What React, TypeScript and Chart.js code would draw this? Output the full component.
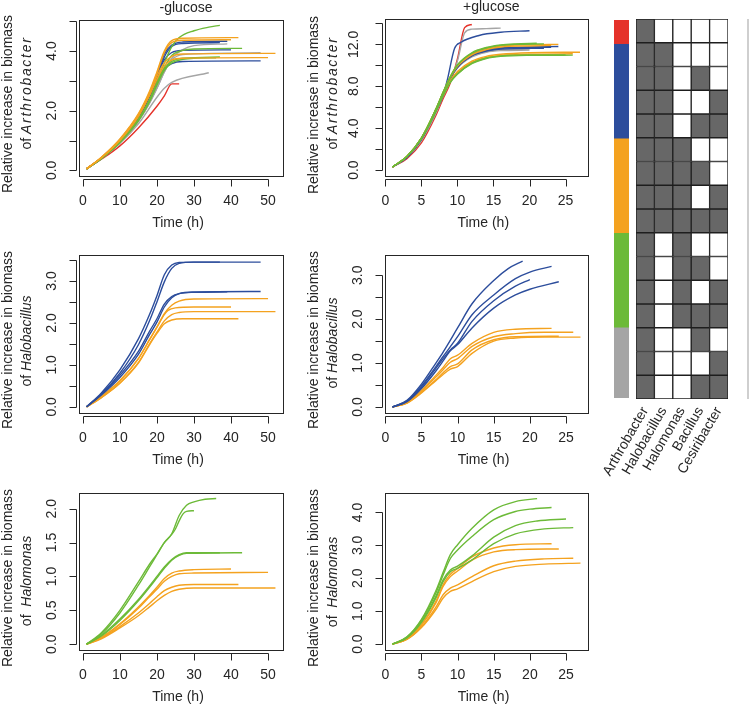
import React, { useEffect, useRef } from 'react';
import { Chart, registerables } from 'chart.js';
Chart.register(...registerables);

type Pt = [number, number];
interface Series { color: string; pts: Pt[] }

const RED = '#e5322a';
const BLUE = '#2c4d9c';
const ORANGE = '#f4a21f';
const GREEN = '#6cba38';
const GRAY = '#a5a5a5';
const INK = '#262626';
const FONT = '"Liberation Sans", Arial, Helvetica, sans-serif';

// ---------- tick values ----------
const xTicksLong = [0, 10, 20, 30, 40, 50];
const xTicksShort = [0, 5, 10, 15, 20, 25];
const yTicksArthMinus = [0, 1, 2, 3, 4, 5];
const yLabArthMinus = [0, 2, 4];
const yTicksArthPlus = [0, 2, 4, 6, 8, 10, 12, 14];
const yLabArthPlus = [0, 4, 8, 12];
const yTicksHaloMinus = [0, 0.5, 1, 1.5, 2, 2.5, 3, 3.5];
const yLabHaloMinus = [0, 1, 2, 3];
const yTicksHaloPlus = [0, 0.5, 1, 1.5, 2, 2.5, 3];
const yLabHaloPlus = [0, 1, 2, 3];
const yTicksMonMinus = [0, 0.5, 1, 1.5, 2];
const yLabMonMinus = [0, 0.5, 1, 1.5, 2];
const yTicksMonPlus = [0, 1, 2, 3, 4];
const yLabMonPlus = [0, 1, 2, 3, 4];

// ---------- Arthrobacter, -glucose ----------
const arthMinus: Series[] = [
  { color: ORANGE, pts: [[1,0.05],[5,0.44],[10,1.05],[15,1.9],[18,2.65],[20,3.3],[22,4.0],[24,4.35],[27,4.43],[42,4.45]] },
  { color: ORANGE, pts: [[1,0.05],[5,0.43],[10,1.03],[15,1.87],[18,2.6],[20,3.25],[22,3.95],[24,4.28],[27,4.36],[40,4.38]] },
  { color: ORANGE, pts: [[1,0.05],[5,0.42],[10,1.01],[15,1.83],[18,2.55],[20,3.15],[22,3.6],[24,3.82],[27,3.9],[52,3.92]] },
  { color: ORANGE, pts: [[1,0.05],[5,0.42],[10,1.0],[15,1.8],[18,2.5],[20,3.05],[22,3.5],[24,3.7],[27,3.76],[50,3.78]] },
  { color: GREEN, pts: [[1,0.05],[5,0.4],[10,0.95],[15,1.7],[18,2.35],[20,2.95],[22,3.6],[24,4.15],[26,4.45],[30,4.68],[34,4.8],[37,4.86]] },
  { color: GREEN, pts: [[1,0.05],[5,0.4],[10,0.95],[15,1.7],[18,2.35],[20,2.9],[22,3.45],[24,3.85],[27,4.02],[30,4.07],[43,4.09]] },
  { color: GREEN, pts: [[1,0.05],[5,0.4],[10,0.95],[15,1.7],[18,2.35],[20,2.9],[22,3.4],[24,3.65],[27,3.76],[37,3.8]] },
  { color: GREEN, pts: [[1,0.05],[5,0.39],[10,0.93],[15,1.66],[18,2.3],[20,2.85],[22,3.35],[24,3.6],[27,3.72],[30,3.76],[36,3.77]] },
  { color: BLUE, pts: [[1,0.05],[5,0.42],[10,1.03],[15,1.85],[18,2.55],[20,3.2],[22,3.9],[24,4.2],[27,4.3],[39,4.33]] },
  { color: BLUE, pts: [[1,0.05],[5,0.41],[10,1.0],[15,1.8],[18,2.5],[20,3.1],[22,3.8],[24,4.15],[27,4.25],[37,4.28]] },
  { color: BLUE, pts: [[1,0.05],[5,0.41],[10,1.0],[15,1.8],[18,2.5],[20,3.15],[22,3.7],[24,3.95],[27,4.02],[40,4.04]] },
  { color: BLUE, pts: [[1,0.05],[5,0.4],[10,0.96],[15,1.75],[18,2.45],[20,3.0],[22,3.4],[24,3.58],[27,3.65],[48,3.67]] },
  { color: GRAY, pts: [[1,0.05],[5,0.4],[10,0.93],[15,1.65],[18,2.25],[20,2.75],[22,3.3],[24,3.75],[27,4.05],[30,4.18],[39,4.24]] },
  { color: GRAY, pts: [[1,0.05],[5,0.4],[10,0.93],[15,1.65],[18,2.25],[20,2.75],[22,3.3],[24,3.7],[27,3.88],[48,3.94]] },
  { color: GRAY, pts: [[1,0.05],[5,0.4],[10,0.9],[15,1.56],[20,2.45],[22,2.75],[24,2.95],[34,3.27]] },
  { color: RED, pts: [[1,0.05],[5,0.37],[10,0.82],[15,1.42],[20,2.15],[22,2.5],[24,2.9],[26,2.9]] },
];

// ---------- Arthrobacter, +glucose ----------
const arthPlus: Series[] = [
  { color: GREEN, pts: [[1,0.3],[3,1.3],[5,3.05],[7,5.8],[8,7.4],[9,8.9],[10,10.05],[12,11.2],[14,11.7],[16,11.95],[18,12.05],[21,12.1]] },
  { color: GREEN, pts: [[1,0.3],[3,1.3],[5,3.05],[7,5.8],[8,7.4],[9,8.85],[10,10.0],[12,11.15],[14,11.65],[16,11.9],[18,12.0],[22,12.05]] },
  { color: GREEN, pts: [[1,0.3],[3,1.3],[5,3.0],[7,5.6],[8,7.1],[9,8.4],[10,9.2],[12,10.2],[14,10.7],[16,10.9],[20,11.0],[25,11.0]] },
  { color: GREEN, pts: [[1,0.3],[3,1.3],[5,3.0],[7,5.6],[8,7.1],[9,8.35],[10,9.15],[12,10.15],[14,10.65],[16,10.85],[20,10.95],[26,10.97]] },
  { color: ORANGE, pts: [[1,0.3],[3,1.3],[5,3.05],[7,5.8],[8,7.4],[9,8.9],[10,10.0],[12,11.1],[14,11.6],[16,11.85],[20,11.95],[24,12.0]] },
  { color: ORANGE, pts: [[1,0.3],[3,1.3],[5,3.05],[7,5.75],[8,7.35],[9,8.8],[10,9.9],[12,11.0],[14,11.5],[16,11.75],[20,11.85],[23,11.9]] },
  { color: ORANGE, pts: [[1,0.3],[3,1.3],[5,3.0],[7,5.7],[8,7.2],[9,8.5],[10,9.4],[12,10.4],[14,10.85],[16,11.05],[20,11.2],[27,11.25]] },
  { color: ORANGE, pts: [[1,0.3],[3,1.3],[5,3.0],[7,5.65],[8,7.15],[9,8.45],[10,9.3],[12,10.3],[14,10.75],[16,10.95],[20,11.05],[26,11.1]] },
  { color: BLUE, pts: [[1,0.3],[3,1.2],[5,2.9],[7,5.6],[8,7.1],[8.6,8.6],[9.6,11.6],[10.5,12.2],[13,12.85],[16,13.15],[20,13.3]] },
  { color: BLUE, pts: [[1,0.3],[3,1.25],[5,3.0],[7,5.7],[8,7.3],[9,8.8],[10,9.9],[12,11.0],[14,11.45],[16,11.65],[20,11.75],[24,11.8]] },
  { color: BLUE, pts: [[1,0.3],[3,1.25],[5,3.0],[7,5.7],[8,7.3],[9,8.8],[10,9.85],[12,10.95],[14,11.4],[16,11.6],[20,11.7],[23,11.72]] },
  { color: BLUE, pts: [[1,0.3],[3,1.25],[5,3.0],[7,5.7],[8,7.3],[9,8.75],[10,9.8],[12,10.9],[14,11.35],[16,11.55],[22,11.62]] },
  { color: GRAY, pts: [[1,0.3],[3,1.2],[5,2.8],[7,5.4],[8,7.0],[9,8.5],[10,10.4],[11,13.1],[12,13.45],[14,13.5],[16,13.55]] },
  { color: GRAY, pts: [[1,0.3],[3,1.25],[5,3.0],[7,5.7],[8,7.3],[9,8.8],[10,9.8],[12,10.85],[14,11.3],[16,11.48],[20,11.55]] },
  { color: GRAY, pts: [[1,0.3],[3,1.25],[5,3.0],[7,5.7],[8,7.3],[9,8.75],[10,9.75],[12,10.8],[14,11.25],[16,11.4],[20,11.45]] },
  { color: RED, pts: [[1,0.3],[3,1.1],[5,2.6],[7,5.2],[8,6.8],[9,8.3],[10,10.6],[11,13.6],[12,13.9]] },
];

// ---------- Halobacillus, -glucose ----------
const haloMinus: Series[] = [
  { color: BLUE, pts: [[1,0],[5,0.33],[10,0.88],[15,1.62],[18,2.2],[20,2.65],[22,3.15],[24,3.38],[26,3.44],[30,3.45],[48,3.45]] },
  { color: BLUE, pts: [[1,0],[5,0.3],[10,0.8],[15,1.48],[18,2.05],[20,2.5],[22,2.98],[24,3.3],[26,3.42],[30,3.45],[37,3.45]] },
  { color: BLUE, pts: [[1,0],[5,0.3],[10,0.75],[15,1.32],[18,1.8],[20,2.1],[22,2.45],[24,2.63],[26,2.7],[30,2.73],[39,2.74]] },
  { color: BLUE, pts: [[1,0],[5,0.28],[10,0.7],[15,1.25],[18,1.72],[20,2.02],[22,2.38],[24,2.6],[26,2.7],[30,2.74],[48,2.75]] },
  { color: ORANGE, pts: [[1,0],[5,0.25],[10,0.62],[15,1.15],[18,1.6],[20,1.9],[22,2.22],[24,2.42],[26,2.52],[30,2.57],[50,2.58]] },
  { color: ORANGE, pts: [[1,0],[5,0.25],[10,0.62],[15,1.15],[18,1.6],[20,1.9],[22,2.2],[23,2.3],[25,2.36],[30,2.38],[40,2.38]] },
  { color: ORANGE, pts: [[1,0],[5,0.22],[10,0.57],[15,1.06],[18,1.5],[20,1.78],[22,2.05],[24,2.2],[26,2.25],[30,2.27],[52,2.27]] },
  { color: ORANGE, pts: [[1,0],[5,0.22],[10,0.56],[15,1.04],[18,1.48],[20,1.75],[22,1.98],[24,2.07],[27,2.1],[42,2.1]] },
];

// ---------- Halobacillus, +glucose ----------
const haloPlus: Series[] = [
  { color: BLUE, pts: [[1,0],[3,0.15],[5,0.52],[7,1.0],[8,1.25],[10,1.8],[12,2.35],[15,2.88],[17,3.15],[19,3.32]] },
  { color: BLUE, pts: [[1,0],[3,0.14],[5,0.48],[7,0.92],[8,1.15],[10,1.6],[12,2.1],[15,2.55],[18,2.92],[20,3.07],[23,3.2]] },
  { color: BLUE, pts: [[1,0],[3,0.13],[5,0.45],[7,0.88],[8,1.1],[9,1.3],[10,1.45],[12,1.95],[15,2.42],[18,2.75],[20,2.9]] },
  { color: BLUE, pts: [[1,0],[3,0.12],[5,0.42],[7,0.82],[8,1.05],[9,1.28],[10,1.42],[12,1.8],[15,2.25],[18,2.55],[20,2.68],[24,2.85]] },
  { color: ORANGE, pts: [[1,0],[3,0.1],[5,0.38],[7,0.72],[8,0.9],[9,1.1],[10,1.18],[12,1.45],[15,1.7],[18,1.77],[23,1.79]] },
  { color: ORANGE, pts: [[1,0],[3,0.1],[5,0.36],[7,0.68],[8,0.85],[9,1.02],[10,1.1],[12,1.38],[15,1.6],[18,1.67],[22,1.7],[26,1.7]] },
  { color: ORANGE, pts: [[1,0],[3,0.09],[5,0.33],[7,0.62],[8,0.78],[9,0.92],[10,0.98],[12,1.3],[15,1.53],[18,1.6],[24,1.61]] },
  { color: ORANGE, pts: [[1,0],[3,0.09],[5,0.32],[7,0.6],[8,0.74],[9,0.86],[10,0.92],[12,1.22],[15,1.5],[18,1.57],[22,1.59],[27,1.59]] },
];

// ---------- Halomonas, -glucose ----------
const monMinus: Series[] = [
  { color: GREEN, pts: [[1,0],[5,0.17],[10,0.5],[15,0.92],[18,1.18],[20,1.33],[22,1.5],[24,1.63],[26,1.9],[28,2.05],[30,2.1],[33,2.14],[36,2.15]] },
  { color: GREEN, pts: [[1,0],[5,0.15],[10,0.46],[15,0.87],[18,1.14],[20,1.32],[22,1.5],[24,1.62],[25,1.7],[26,1.82],[27,1.92],[28,1.96],[30,1.97]] },
  { color: GREEN, pts: [[1,0],[5,0.13],[10,0.37],[15,0.66],[18,0.86],[20,1.0],[22,1.14],[24,1.25],[26,1.32],[28,1.35],[37,1.35]] },
  { color: GREEN, pts: [[1,0],[5,0.12],[10,0.35],[15,0.64],[18,0.84],[20,0.98],[22,1.12],[24,1.24],[26,1.31],[28,1.34],[43,1.35]] },
  { color: ORANGE, pts: [[1,0],[5,0.1],[10,0.3],[15,0.55],[18,0.72],[20,0.84],[22,0.97],[24,1.05],[26,1.08],[30,1.1],[40,1.11]] },
  { color: ORANGE, pts: [[1,0],[5,0.1],[10,0.29],[15,0.53],[18,0.7],[20,0.81],[22,0.93],[24,1.0],[26,1.04],[30,1.05],[50,1.06]] },
  { color: ORANGE, pts: [[1,0],[5,0.09],[10,0.26],[15,0.46],[18,0.6],[20,0.7],[22,0.79],[24,0.84],[26,0.87],[30,0.88],[42,0.88]] },
  { color: ORANGE, pts: [[1,0],[5,0.08],[10,0.24],[15,0.42],[18,0.55],[20,0.64],[22,0.72],[24,0.78],[26,0.81],[30,0.83],[52,0.83]] },
];

// ---------- Halomonas, +glucose ----------
const monPlus: Series[] = [
  { color: GREEN, pts: [[1,0],[3,0.22],[5,0.75],[7,1.62],[8,2.18],[9,2.72],[10,3.02],[12,3.52],[15,4.08],[18,4.33],[21,4.42]] },
  { color: GREEN, pts: [[1,0],[3,0.21],[5,0.72],[7,1.55],[8,2.1],[9,2.6],[10,2.86],[12,3.27],[15,3.78],[18,4.03],[20,4.1],[23,4.15]] },
  { color: GREEN, pts: [[1,0],[3,0.2],[5,0.68],[7,1.45],[8,1.95],[9,2.25],[10,2.37],[12,2.68],[15,3.25],[18,3.6],[21,3.74],[25,3.8]] },
  { color: GREEN, pts: [[1,0],[3,0.19],[5,0.65],[7,1.4],[8,1.9],[9,2.2],[10,2.3],[12,2.56],[15,3.05],[18,3.35],[22,3.5],[26,3.54]] },
  { color: ORANGE, pts: [[1,0],[3,0.17],[5,0.6],[7,1.3],[8,1.8],[9,2.12],[10,2.3],[12,2.65],[15,2.92],[18,3.02],[23,3.05]] },
  { color: ORANGE, pts: [[1,0],[3,0.16],[5,0.57],[7,1.25],[8,1.75],[9,2.05],[10,2.22],[12,2.55],[15,2.8],[18,2.87],[24,2.89]] },
  { color: ORANGE, pts: [[1,0],[3,0.15],[5,0.52],[7,1.12],[8,1.5],[9,1.7],[10,1.8],[12,2.05],[15,2.38],[18,2.52],[22,2.59],[26,2.61]] },
  { color: ORANGE, pts: [[1,0],[3,0.14],[5,0.5],[7,1.05],[8,1.4],[9,1.6],[10,1.68],[12,1.9],[15,2.2],[18,2.36],[22,2.43],[27,2.46]] },
];

// ---------- community composition matrix ----------
const genera = ['Arthrobacter', 'Halobacillus', 'Halomonas', 'Bacillus', 'Cesiribacter'];
const presence = [
  [1,0,0,0,0],
  [1,1,0,0,0],
  [1,1,0,1,0],
  [1,1,0,0,1],
  [1,1,0,1,1],
  [1,1,1,0,0],
  [1,1,1,1,0],
  [1,1,1,0,1],
  [1,1,1,1,1],
  [1,0,1,0,0],
  [1,0,1,1,0],
  [1,0,1,0,1],
  [1,0,1,1,1],
  [1,0,0,1,0],
  [1,0,0,0,1],
  [1,0,0,1,1],
];
const stripColors = [RED, BLUE, ORANGE, GREEN, GRAY];
const stripCounts = [1, 4, 4, 4, 3];

// ---------- layout ----------
interface Box { l: number; t: number; r: number; b: number }
interface Cnv { left: number; top: number; width: number; height: number }
interface PanelCfg {
  key: string; canvas: Cnv; box: Box;
  xMin: number; xMax: number; yMin: number; yMax: number;
  xTicks: number[]; yTicks: number[]; yLabeled: number[];
  series: Series[]; title?: string; genusPrefix: string; genus: string; genusSpacing: number;
  line1Y: number; line2Y: number;
}

const Y_W = 45;
const X_H = 40;

const panels: PanelCfg[] = [
  { key: 'a', canvas: { left: 0, top: 0, width: 300, height: 240 }, box: { l: 79, t: 20, r: 283, b: 176 },
    xMin: -1.04, xMax: 54.04, yMin: -0.19, yMax: 5.04, xTicks: xTicksLong, yTicks: yTicksArthMinus, yLabeled: yLabArthMinus,
    series: arthMinus, title: '-glucose', genusPrefix: 'of ', genus: 'Arthrobacter', genusSpacing: 1.7, line1Y: 104, line2Y: 93 },
  { key: 'b', canvas: { left: 300, top: 0, width: 300, height: 240 }, box: { l: 385, t: 19, r: 587.5, b: 176 },
    xMin: -0.04, xMax: 28.04, yMin: -0.56, yMax: 14.42, xTicks: xTicksShort, yTicks: yTicksArthPlus, yLabeled: yLabArthPlus,
    series: arthPlus, title: '+glucose', genusPrefix: 'of ', genus: 'Arthrobacter', genusSpacing: 1.7, line1Y: 105, line2Y: 93 },
  { key: 'c', canvas: { left: 0, top: 232, width: 300, height: 243 }, box: { l: 79, t: 255, r: 283, b: 412.7 },
    xMin: -1.04, xMax: 54.04, yMin: -0.14, yMax: 3.62, xTicks: xTicksLong, yTicks: yTicksHaloMinus, yLabeled: yLabHaloMinus,
    series: haloMinus, genusPrefix: 'of ', genus: 'Halobacillus', genusSpacing: 0, line1Y: 340, line2Y: 341 },
  { key: 'd', canvas: { left: 300, top: 232, width: 300, height: 243 }, box: { l: 385, t: 255, r: 588, b: 412.7 },
    xMin: -0.04, xMax: 28.04, yMin: -0.13, yMax: 3.46, xTicks: xTicksShort, yTicks: yTicksHaloPlus, yLabeled: yLabHaloPlus,
    series: haloPlus, genusPrefix: 'of ', genus: 'Halobacillus', genusSpacing: 0, line1Y: 340, line2Y: 343 },
  { key: 'e', canvas: { left: 0, top: 468, width: 300, height: 240 }, box: { l: 79, t: 492.7, r: 283, b: 650 },
    xMin: -1.04, xMax: 54.04, yMin: -0.086, yMax: 2.236, xTicks: xTicksLong, yTicks: yTicksMonMinus, yLabeled: yLabMonMinus,
    series: monMinus, genusPrefix: 'of  ', genus: 'Halomonas', genusSpacing: 0, line1Y: 578, line2Y: 581 },
  { key: 'f', canvas: { left: 300, top: 468, width: 300, height: 240 }, box: { l: 385, t: 492.7, r: 588, b: 650 },
    xMin: -0.04, xMax: 28.04, yMin: -0.18, yMax: 4.6, xTicks: xTicksShort, yTicks: yTicksMonPlus, yLabeled: yLabMonPlus,
    series: monPlus, genusPrefix: 'of  ', genus: 'Halomonas', genusSpacing: 0, line1Y: 578, line2Y: 582 },
];

function drawRotated(ctx: CanvasRenderingContext2D, x: number, y: number, parts: { text: string; italic: boolean; spacing: number }[]) {
  ctx.save();
  ctx.translate(x, y);
  ctx.rotate(-Math.PI / 2);
  ctx.textAlign = 'left';
  ctx.textBaseline = 'middle';
  const c: any = ctx;
  const setFont = (p: { italic: boolean; spacing: number }) => {
    ctx.font = (p.italic ? 'italic ' : '') + '14px ' + FONT;
    c.letterSpacing = p.spacing + 'px';
  };
  const widths = parts.map(p => { setFont(p); return ctx.measureText(p.text).width; });
  let cur = -widths.reduce((s, w) => s + w, 0) / 2;
  parts.forEach((p, i) => { setFont(p); ctx.fillText(p.text, cur, 0); cur += widths[i]; });
  c.letterSpacing = '0px';
  ctx.restore();
}

function decoPlugin(p: PanelCfg) {
  return {
    id: 'deco_' + p.key,
    afterDraw(chart: any) {
      const ctx: CanvasRenderingContext2D = chart.ctx;
      const a = chart.chartArea;
      const ox = p.canvas.left, oy = p.canvas.top;
      ctx.save();
      ctx.strokeStyle = INK;
      ctx.lineWidth = 1;
      const L = Math.round(a.left), T = Math.round(a.top), R = Math.round(a.right), B = Math.round(a.bottom);
      ctx.strokeRect(L + 0.5, T + 0.5, R - L, B - T);
      const xs = chart.scales.x, ys = chart.scales.y;
      const OFF = 3, LEN = 7;
      ctx.beginPath();
      const xb = B + OFF + 0.5;
      const xp: number[] = xs.ticks.map((_: any, i: number) => Math.round(xs.getPixelForTick(i)) + 0.5);
      ctx.moveTo(xp[0], xb); ctx.lineTo(xp[xp.length - 1], xb);
      xp.forEach(px => { ctx.moveTo(px, xb); ctx.lineTo(px, xb + LEN); });
      const yl = L - OFF + 0.5;
      const yp: number[] = ys.ticks.map((_: any, i: number) => Math.round(ys.getPixelForTick(i)) + 0.5);
      ctx.moveTo(yl, yp[0]); ctx.lineTo(yl, yp[yp.length - 1]);
      yp.forEach(py => { ctx.moveTo(yl, py); ctx.lineTo(yl - LEN, py); });
      ctx.stroke();

      ctx.fillStyle = INK;
      ctx.font = '14px ' + FONT;
      ctx.textAlign = 'center';
      ctx.textBaseline = 'middle';
      const cx = (a.left + a.right) / 2;
      if (p.title) ctx.fillText(p.title, cx + 5, a.top - 12);
      ctx.fillText('Time (h)', cx - 3, a.bottom + 47);
      drawRotated(ctx, p.box.l - 71 - ox, p.line1Y - oy, [{ text: 'Relative increase in biomass', italic: false, spacing: 0 }]);
      drawRotated(ctx, p.box.l - 52 - ox, p.line2Y - oy, [
        { text: p.genusPrefix, italic: false, spacing: 0 },
        { text: p.genus, italic: true, spacing: p.genusSpacing },
      ]);
      ctx.restore();
    },
  };
}

function makePanel(canvas: HTMLCanvasElement, p: PanelCfg): Chart {
  const font = { family: FONT, size: 14 };
  const cfg: any = {
    type: 'line',
    data: {
      datasets: p.series.map(s => ({
        data: s.pts.map(([x, y]) => ({ x, y })),
        borderColor: s.color,
        borderWidth: 1.4,
        pointRadius: 0,
        fill: false,
        cubicInterpolationMode: 'monotone',
      })),
    },
    options: {
      animation: false,
      responsive: false,
      events: [],
      layout: {
        padding: {
          left: p.box.l - p.canvas.left - Y_W,
          top: p.box.t - p.canvas.top,
          right: p.canvas.left + p.canvas.width - p.box.r,
          bottom: p.canvas.top + p.canvas.height - p.box.b - X_H,
        },
      },
      plugins: { legend: { display: false }, tooltip: { enabled: false }, title: { display: false } },
      scales: {
        x: {
          type: 'linear', min: p.xMin, max: p.xMax,
          afterBuildTicks: (s: any) => { s.ticks = p.xTicks.map(v => ({ value: v })); },
          afterFit: (s: any) => { s.height = X_H; },
          grid: { display: true, drawOnChartArea: false, drawTicks: true, tickLength: 10, color: 'rgba(0,0,0,0)' },
          border: { display: false },
          ticks: { autoSkip: false, maxRotation: 0, minRotation: 0, padding: 7, font, color: INK, callback: (v: number) => String(v) },
        },
        y: {
          type: 'linear', min: p.yMin, max: p.yMax,
          afterBuildTicks: (s: any) => { s.ticks = p.yTicks.map(v => ({ value: v })); },
          afterFit: (s: any) => { s.width = Y_W; },
          grid: { display: true, drawOnChartArea: false, drawTicks: true, tickLength: 10, color: 'rgba(0,0,0,0)' },
          border: { display: false },
          ticks: {
            autoSkip: false, minRotation: 90, maxRotation: 90, crossAlign: 'center', padding: 7, font, color: INK,
            callback: (v: number) => (p.yLabeled.some(l => Math.abs(l - v) < 1e-9) ? v.toFixed(1) : ''),
          },
        },
      },
    },
    plugins: [decoPlugin(p)],
  };
  return new Chart(canvas, cfg);
}

const HM_CANVAS: Cnv = { left: 580, top: 0, width: 160, height: 500 };
const HM_BOX: Box = { l: 636, t: 19, r: 728, b: 399 };
const STRIP_CANVAS: Cnv = { left: 614, top: 20, width: 15, height: 378 };

function makeHeatmap(canvas: HTMLCanvasElement): Chart {
  const cfg: any = {
    type: 'bar',
    data: {
      labels: genera,
      datasets: presence.map(row => ({
        data: row.map(() => 1),
        backgroundColor: row.map(v => (v ? '#676767' : '#ffffff')),
        borderColor: '#1e1e1e',
        borderWidth: 1,
        borderSkipped: false,
        barPercentage: 1,
        categoryPercentage: 1,
      })),
    },
    options: {
      animation: false,
      responsive: false,
      events: [],
      layout: {
        padding: {
          left: HM_BOX.l - HM_CANVAS.left,
          top: HM_BOX.t - HM_CANVAS.top,
          right: HM_CANVAS.left + HM_CANVAS.width - HM_BOX.r,
          bottom: HM_CANVAS.top + HM_CANVAS.height - HM_BOX.b - 90,
        },
      },
      plugins: { legend: { display: false }, tooltip: { enabled: false } },
      scales: {
        x: {
          stacked: true,
          afterFit: (s: any) => { s.height = 90; },
          grid: { display: false, drawTicks: false },
          border: { display: false },
          ticks: { autoSkip: false, minRotation: 60, maxRotation: 60, padding: 5, font: { family: FONT, size: 14 }, color: INK },
        },
        y: { stacked: true, display: false, min: 0, max: presence.length, reverse: true },
      },
    },
  };
  return new Chart(canvas, cfg);
}

function makeStrip(canvas: HTMLCanvasElement): Chart {
  const cfg: any = {
    type: 'bar',
    data: {
      labels: ['group'],
      datasets: stripCounts.map((n, i) => ({
        data: [n],
        backgroundColor: stripColors[i],
        borderWidth: 0,
        barPercentage: 1,
        categoryPercentage: 1,
      })),
    },
    options: {
      animation: false,
      responsive: false,
      events: [],
      layout: { padding: 0 },
      plugins: { legend: { display: false }, tooltip: { enabled: false } },
      scales: {
        x: { stacked: true, display: false },
        y: { stacked: true, display: false, min: 0, max: stripCounts.reduce((s, v) => s + v, 0), reverse: true },
      },
    },
  };
  return new Chart(canvas, cfg);
}

function ChartCanvas({ c, make }: { c: Cnv; make: (el: HTMLCanvasElement) => Chart }) {
  const ref = useRef<HTMLCanvasElement>(null);
  useEffect(() => {
    const chart = make(ref.current!);
    return () => chart.destroy();
  }, []);
  return (
    <canvas ref={ref} width={c.width} height={c.height}
      style={{ position: 'absolute', left: c.left, top: c.top, width: c.width, height: c.height }} />
  );
}

export default function App() {
  return (
    <div style={{ position: 'absolute', left: 0, top: 0, width: 750, height: 708, background: '#fff', overflow: 'hidden' }}>
      {panels.map(p => (
        <ChartCanvas key={p.key} c={p.canvas} make={el => makePanel(el, p)} />
      ))}
      <ChartCanvas c={STRIP_CANVAS} make={makeStrip} />
      <ChartCanvas c={HM_CANVAS} make={makeHeatmap} />
      <div style={{ position: 'absolute', left: 747, top: 19, width: 2, height: 380, background: '#cfcfcf' }} />
    </div>
  );
}
